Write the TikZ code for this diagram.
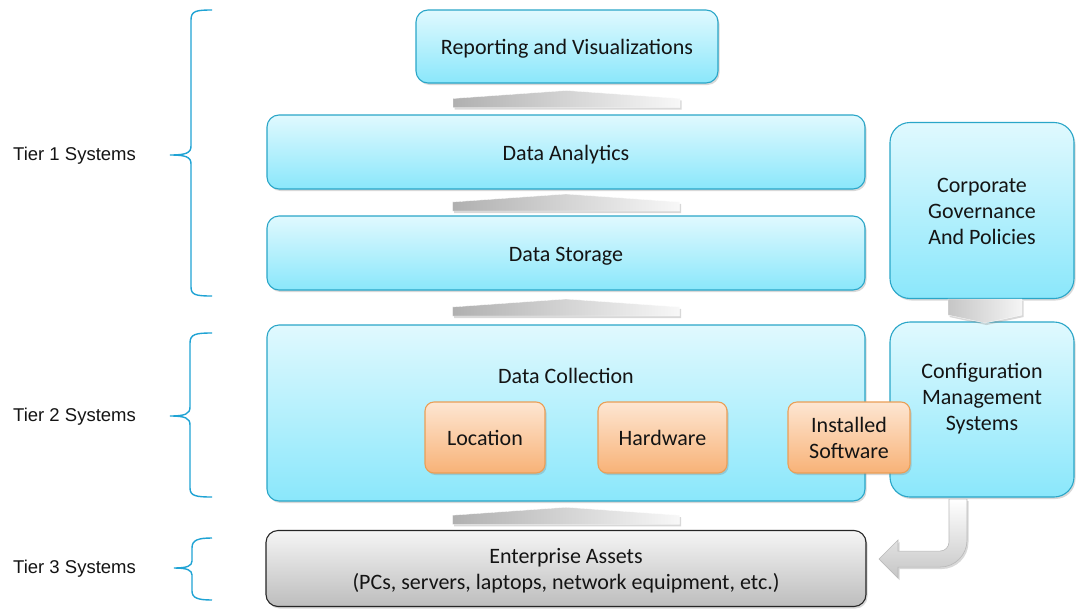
\documentclass[tikz,border=0pt]{standalone}
\usepackage{fontspec}
\setmainfont{Carlito}
\newfontfamily\arialf{Liberation Sans}
\usetikzlibrary{shadows,calc}
\definecolor{cyanTop}{HTML}{E0F9FE}
\definecolor{cyanBot}{HTML}{8AE7FB}
\definecolor{cyanEdge}{HTML}{2AA6C8}
\definecolor{orTop}{HTML}{FDE6D2}
\definecolor{orBot}{HTML}{F8B277}
\definecolor{orEdge}{HTML}{EA9F57}
\definecolor{grTop}{HTML}{F5F5F5}
\definecolor{grBot}{HTML}{BDBDBD}
\definecolor{braceCol}{HTML}{1FA3D4}
\definecolor{txt}{HTML}{141414}
\newcommand\lines[1]{\begin{tabular}[t]{@{}c@{}}#1\end{tabular}}
\tikzset{
  x=1pt, y=-1pt,
  shad/.style={drop shadow={shadow xshift=1.5pt, shadow yshift=-2pt, opacity=0.3}},
  box/.style={draw, rounded corners=12pt, line width=1.1pt, text=txt,
    font=\fontsize{22}{26}\selectfont, inner sep=0pt, text height=20pt, text depth=4pt, shad},
  cyanbox/.style={box, draw=cyanEdge, top color=cyanTop, bottom color=cyanBot},
  bigcyan/.style={cyanbox, rounded corners=20pt},
  orbox/.style={box, rounded corners=9pt, draw=orEdge, top color=orTop, bottom color=orBot},
  graybox/.style={box, draw=black!85, top color=grTop, bottom color=grBot},
  boxtext/.style={text=txt, font=\fontsize{22}{26}\selectfont, inner sep=0pt, text height=20pt, text depth=4pt},
  tierlabel/.style={text=txt, font=\arialf\fontsize{18.5}{20}\selectfont, inner sep=0pt, anchor=west},
  bracestyle/.style={draw=braceCol, line width=1.4pt},
  layerarrow/.style={left color=gray!62, right color=gray!6, draw=white, line width=0.3pt, shad},
  bendarrow/.style={top color=white, bottom color=gray!45, draw=gray!55, line width=0.6pt, shad},
}
\newcommand\layerarrow[3]{%
  \coordinate (#3) at ($(#1.south)!0.5!(#2.north)$);
  \path[layerarrow] ($(#3)+(-113.5,8.5)$) -- ($(#3)+(113.5,8.5)$) -- ($(#3)+(113.5,-0.5)$)
    -- ($(#3)+(0,-8.5)$) -- ($(#3)+(-113.5,-0.5)$) -- cycle;}
\begin{document}
\begin{tikzpicture}
\useasboundingbox (0,0) rectangle (1076,608);
\fill[white] (0,0) rectangle (1076,608);

% main stack
\node[cyanbox, minimum width=302pt, minimum height=73pt] (report) at (567,46.5) {Reporting and Visualizations};
\node[cyanbox, minimum width=598pt, minimum height=74pt] (analytics) at (566,152) {Data Analytics};
\node[cyanbox, minimum width=598pt, minimum height=74pt] (storage) at (566,253) {Data Storage};
\node[cyanbox, minimum width=598pt, minimum height=176pt] (collection) at (566,413) {};
\node[boxtext] (colltitle) at (566,375) {Data Collection};
\node[graybox, minimum width=600pt, minimum height=76pt, text depth=30pt] (assets) at (566,568.5)
  {\lines{Enterprise Assets\\(PCs, servers, laptops, network equipment, etc.)}};

% right column
\node[bigcyan, minimum width=184pt, minimum height=176pt, text depth=56pt] (corp) at (982,210.5)
  {\lines{Corporate\\Governance\\And Policies}};
\node[bigcyan, minimum width=184pt, minimum height=175pt, text depth=83pt] (config) at (982,409.5)
  {\lines{Configuration\\Management\\Systems}};

% curved arrow config -> assets
\coordinate (cs) at ($(config.south)+(-24,1.5)$);
\path[bendarrow] ($(cs)+(-9,0)$) -- ($(cs)+(-9,43)$)
  .. controls ($(cs)+(-9,48)$) and ($(cs)+(-13,52)$) .. ($(cs)+(-18,52)$)
  -- ($(cs)+(-60,52)$) -- ($(cs)+(-60,41)$) -- ($(cs)+(-79,60)$) -- ($(cs)+(-60,79)$)
  -- ($(cs)+(-60,68)$) -- ($(cs)+(-18,68)$)
  .. controls ($(cs)+(-3,68)$) and ($(cs)+(9,56)$) .. ($(cs)+(9,41)$)
  -- ($(cs)+(9,0)$) -- cycle;

% orange items
\node[orbox, minimum width=120pt, minimum height=71pt] (location) at (485,437.5) {Location};
\node[orbox, minimum width=129pt, minimum height=71pt] (hardware) at (662.5,437.5) {Hardware};
\node[orbox, minimum width=122pt, minimum height=71pt, text depth=30pt] (software) at (849,437.5) {\lines{Installed\\Software}};

% layer arrows
\layerarrow{report}{analytics}{m1}
\layerarrow{analytics}{storage}{m2}
\layerarrow{storage}{collection}{m3}
\layerarrow{collection}{assets}{m4}

% corp -> config chevron
\coordinate (cc) at ($(corp.south)+(3,0)$);
\path[left color=gray!45, right color=gray!8, draw=white, line width=0.3pt, shad]
  ($(cc)+(-37,0)$) -- ($(cc)+(37,0)$) -- ($(cc)+(37,16)$) -- ($(cc)+(0,24)$) -- ($(cc)+(-37,16)$) -- cycle;

% tier labels and braces
\node[tierlabel] (tier1) at (13,156) {Tier 1 Systems};
\node[tierlabel] (tier2) at (13,417) {Tier 2 Systems};
\node[tierlabel] (tier3) at (13,569) {Tier 3 Systems};

\draw[bracestyle] (212,10) .. controls (196,10) and (191,11) .. (191,20) -- (191,146)
  .. controls (191,153) and (186,155) .. (170,155)
  .. controls (186,155) and (191,157) .. (191,164) -- (191,287)
  .. controls (191,295) and (196,296) .. (212,296);
\draw[bracestyle] (212,333) .. controls (196,333) and (190,334) .. (190,343) -- (190,407)
  .. controls (190,414) and (185,416) .. (170,416)
  .. controls (185,416) and (190,418) .. (190,425) -- (190,488)
  .. controls (190,496) and (196,497) .. (212,497);
\draw[bracestyle] (212,538) .. controls (198,538) and (192,540) .. (192,548) -- (192,561)
  .. controls (192,566) and (187,568) .. (174,568)
  .. controls (187,568) and (192,570) .. (192,575) -- (192,591)
  .. controls (192,598) and (198,600) .. (212,600);
\end{tikzpicture}
\end{document}
